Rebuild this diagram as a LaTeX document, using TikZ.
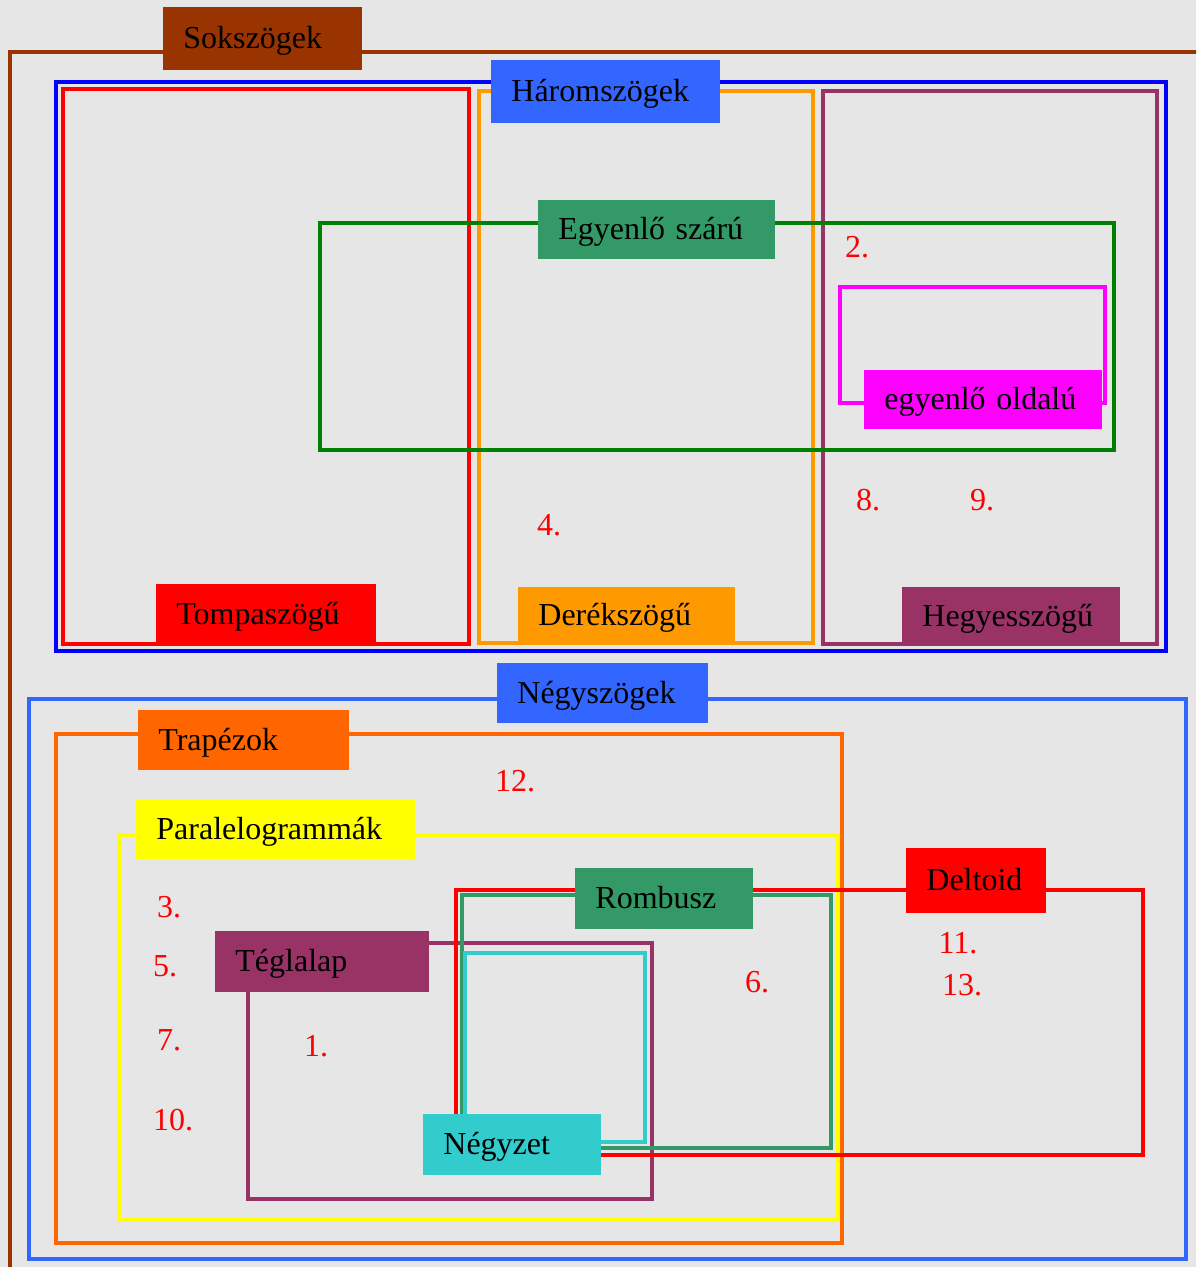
\documentclass[tikz,border=0pt]{standalone}
\usepackage{fontspec}
\setmainfont{Liberation Serif}
\definecolor{bg}{HTML}{E6E6E6}
\definecolor{cbrown}{HTML}{993300}
\definecolor{cblue}{HTML}{0000FF}
\definecolor{clblue}{HTML}{3366FF}
\definecolor{cred}{HTML}{FF0000}
\definecolor{corange}{HTML}{FF9900}
\definecolor{cpurple}{HTML}{993366}
\definecolor{cgreen}{HTML}{008000}
\definecolor{cseagreen}{HTML}{339966}
\definecolor{cmagenta}{HTML}{FF00FF}
\definecolor{ctrap}{HTML}{FF6600}
\definecolor{cyellow}{HTML}{FFFF00}
\definecolor{ccyan}{HTML}{33CCCC}
\tikzset{
  frame/.style={line width=2pt},
  lbl/.style={anchor=north west, inner xsep=10pt, inner ysep=0pt,
    text height=11.9pt, text depth=1.9pt, align=left,
    font=\fontsize{16}{19}\selectfont},
  num/.style={text=cred, inner sep=0pt, font=\fontsize{16}{19}\selectfont},
}
\newcommand\labbox[7]{%
  \pgfmathsetmacro\lbw{(#4-#2)*0.5-20}%
  \pgfmathsetmacro\lbh{(#5-#3)*0.5}%
  \node[lbl, fill=#6, text width=\lbw pt, minimum height=\lbh pt] (#1) at (#2,#3) {#7};}
\begin{document}
\begin{tikzpicture}[x=0.5pt,y=-0.5pt]
\useasboundingbox (0,0) rectangle (1196,1267);
\fill[bg] (0,0) rectangle (1196,1267);
\clip (0,0) rectangle (1196,1267);
% frames
\draw[frame, cbrown] (1210,52) -- (10,52) -- (10,1290);
\draw[frame, cblue] (56,82) rectangle (1166,651);
\draw[frame, cred] (63,89) rectangle (469,644);
\draw[frame, corange] (479,91) rectangle (813,643);
\draw[frame, cpurple] (822.5,91) rectangle (1157,644);
\draw[frame, cgreen] (319.5,223) rectangle (1114,450);
\draw[frame, cmagenta, line width=1.8pt] (840,287) rectangle (1105,403);
\draw[frame, clblue] (29,698.5) rectangle (1186,1258.5);
\draw[frame, ctrap] (56,734) rectangle (842,1243);
\draw[frame, cyellow] (118.7,835) rectangle (837.5,1219.7);
\draw[frame, cpurple] (248,943) rectangle (652,1199);
\draw[frame, cred] (456,890) rectangle (1143,1155);
\draw[frame, cseagreen] (462,895) rectangle (830.7,1148);
\draw[frame, ccyan] (464.7,952.7) rectangle (645.3,1142);
% labels
\labbox{sok}{163}{7}{362}{70}{cbrown}{Sokszögek}
\labbox{harom}{491}{60}{720}{123}{clblue}{Háromszögek}
\labbox{egyszar}{538}{200}{775}{259}{cseagreen}{Egyenlő szárú}
\labbox{egyold}{864}{370}{1102}{429}{cmagenta}{egyenlő oldalú}
\labbox{tompa}{156}{584}{376}{644}{cred}{Tompaszögű}
\labbox{derek}{518}{587}{735}{644}{corange}{Derékszögű}
\labbox{hegyes}{902}{587}{1120}{645}{cpurple}{Hegyesszögű}
\labbox{negy}{497}{663}{708}{723}{clblue}{Négyszögek}
\labbox{trap}{138}{710}{349}{770}{ctrap}{Trapézok}
\labbox{para}{136}{800}{415}{859}{cyellow}{Paralelogrammák}
\labbox{romb}{575}{868}{753}{929}{cseagreen}{Rombusz}
\labbox{delt}{906}{848}{1046}{913}{cred}{Deltoid}
\labbox{tegla}{215}{931}{429}{992}{cpurple}{Téglalap}
\labbox{negyzet}{423}{1114}{601}{1175}{ccyan}{Négyzet}
% numbers
\node[num] (n2) at (857,247) {2.};
\node[num] (n4) at (549,525) {4.};
\node[num] (n8) at (868,500) {8.};
\node[num] (n9) at (982,500) {9.};
\node[num] (n12) at (515,781) {12.};
\node[num] (n3) at (169,907) {3.};
\node[num] (n5) at (165,966) {5.};
\node[num] (n7) at (169,1040) {7.};
\node[num] (n10) at (173,1120) {10.};
\node[num] (n1) at (316,1046) {1.};
\node[num] (n6) at (757,982) {6.};
\node[num] (n11) at (958,943) {11.};
\node[num] (n13) at (962,985) {13.};
\end{tikzpicture}
\end{document}
